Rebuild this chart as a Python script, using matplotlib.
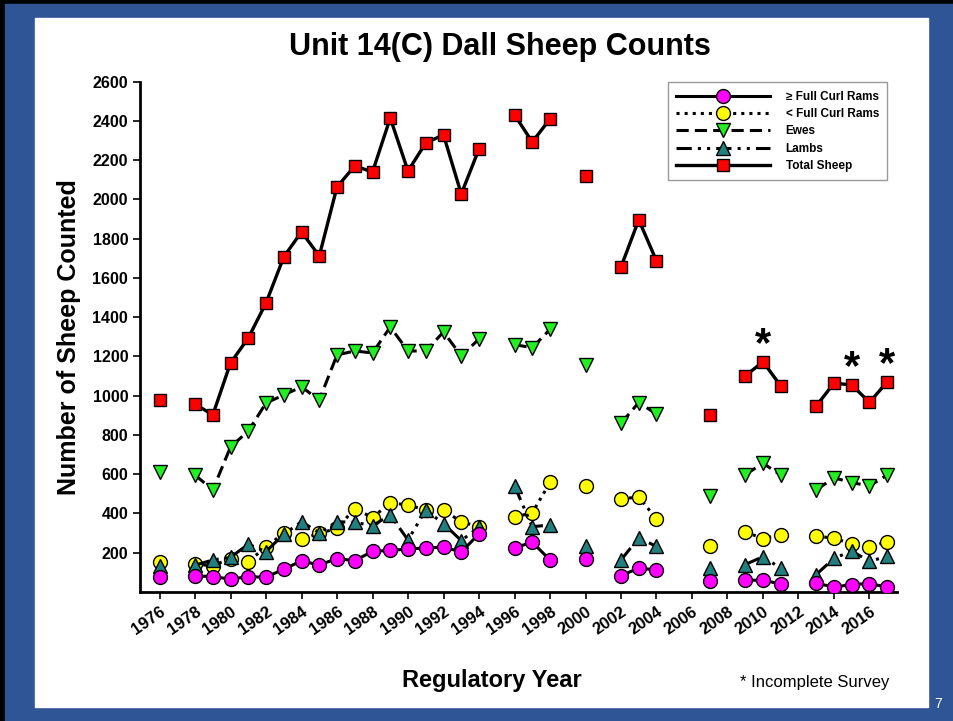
import numpy as np
import pandas as pd
import matplotlib
matplotlib.use("Agg")
import matplotlib.pyplot as plt
from matplotlib.patches import Rectangle

plt.rcParams['font.family'] = ['Liberation Sans', 'DejaVu Sans']

# survey years (gaps = no survey)
years = [1976] + list(range(1978, 1995)) + [1996, 1997, 1998, 2000, 2002, 2003, 2004,
                                           2007, 2009, 2010, 2011, 2013, 2014, 2015, 2016, 2017]

full_curl = [78, 83, 78, 66, 78, 75, 117, 158, 138, 170, 160, 207, 212, 219, 224, 229, 204, 296,
             225, 254, 163, 170, 83, 122, 112, 58, 60, 60, 41, 45, 25, 38, 43, 25]
sub_curl = [154, 141, 135, 170, 154, 231, 299, 268, 299, 324, 425, 379, 455, 443, 418, 418, 357, 333,
            381, 404, 558, 541, 473, 485, 371, 234, 306, 272, 292, 285, 274, 245, 230, 256]
ewes = [611, 596, 520, 739, 820, 963, 1004, 1045, 978, 1208, 1228, 1218, 1350, 1228, 1228, 1325, 1203, 1289,
        1260, 1245, 1338, 1155, 860, 965, 907, 488, 598, 656, 596, 520, 582, 557, 541, 596]
lambs = [132, 137, 163, 177, 243, 206, 294, 358, 302, 358, 355, 338, 392, 265, 418, 348, 262, 331,
         540, 333, 341, 234, 163, 276, 232, 123, 140, 180, 121, 89, 172, 208, 157, 181]
total = [978, 958, 902, 1167, 1294, 1473, 1707, 1835, 1712, 2064, 2171, 2140, 2415, 2145, 2288, 2329, 2028, 2257,
         2431, 2293, 2410, 2120, 1656, 1896, 1687, 902, 1101, 1173, 1050, 948, 1064, 1055, 966, 1071]

incomplete_years = [2010, 2015, 2017]

xticks = list(range(1976, 2017, 2))
yticks = list(range(200, 2601, 200))

# put on a full year index so missing years break the lines
df = pd.DataFrame({'full': full_curl, 'sub': sub_curl, 'ewes': ewes,
                   'lambs': lambs, 'total': total}, index=years)
df = df.reindex(range(1976, 2018))

fig = plt.figure(figsize=(9.54, 7.21), dpi=100)
W, H = 954.0, 721.0
# slide frame
fig.add_artist(Rectangle((0, 0), 1, 1, transform=fig.transFigure, color='black', zorder=-3))
fig.add_artist(Rectangle((5 / W, 0), 1, 1 - 4 / H, transform=fig.transFigure, color='#2F5597', zorder=-2))
fig.add_artist(Rectangle((35 / W, 14 / H), (928 - 35) / W, (707 - 18) / H,
                         transform=fig.transFigure, color='white', zorder=-1))

ax = fig.add_axes([140 / W, 1 - 592 / H, (897 - 140) / W, (592 - 81.7) / H])
ax.patch.set_alpha(0)

ax.plot(df.index, df['full'], '-', color='black', lw=2.2, marker='o', ms=10,
        mfc='#FF00FF', mec='black', mew=1, label=u'\u2265 Full Curl Rams', zorder=5)
ax.plot(df.index, df['sub'], ':', color='black', lw=2.2, marker='o', ms=10,
        mfc='#FFFF00', mec='black', mew=1, label='< Full Curl Rams', zorder=3)
ax.plot(df.index, df['ewes'], color='black', lw=2.2, ls=(0, (4, 2)), marker='v', ms=10,
        mfc='#22EE22', mec='black', mew=1, label='Ewes', zorder=3)
ax.plot(df.index, df['lambs'], color='black', lw=2.2, ls=(0, (5, 2, 1, 2, 1, 2)), marker='^', ms=10,
        mfc='#217F7F', mec='black', mew=1, label='Lambs', zorder=4)
ax.plot(df.index, df['total'], '-', color='black', lw=2.4, marker='s', ms=9,
        mfc='#FF0000', mec='black', mew=1, label='Total Sheep', zorder=3)

for yr in incomplete_years:
    ax.text(yr, df.loc[yr, 'total'] - 15, '*', ha='center', va='bottom',
            fontsize=30, fontweight='bold')

ax.set_xlim(1974.9, 2017.55)
ax.set_ylim(0, 2600)
ax.set_xticks(xticks)
ax.set_yticks(yticks)
ax.set_xticklabels([str(t) for t in xticks], rotation=35, ha='right', rotation_mode='anchor',
                   fontsize=12, fontweight='bold')
ax.set_yticklabels([str(t) for t in yticks], fontsize=11.5, fontweight='bold')
ax.tick_params(direction='out', length=5, width=1.2)
for s in ['top', 'right']:
    ax.spines[s].set_visible(False)
for s in ['left', 'bottom']:
    ax.spines[s].set_linewidth(2)

ax.set_ylabel('Number of Sheep Counted', fontsize=18, fontweight='bold', labelpad=8)
ax.set_xlabel('Regulatory Year', fontsize=17, fontweight='bold', labelpad=23)
ax.xaxis.label.set_x((492 - 140) / 757.0)

leg = ax.legend(loc='upper right', bbox_to_anchor=(0.995, 1.01), numpoints=1, handlelength=8,
                prop={'weight': 'bold', 'size': 8.5}, fancybox=False,
                edgecolor='#999999', framealpha=1, borderpad=0.7, labelspacing=0.45,
                handletextpad=1.3)
leg.get_frame().set_linewidth(1)

fig.text(500 / W, 1 - 47 / H, 'Unit 14(C) Dall Sheep Counts', ha='center', va='center',
         fontsize=22, fontweight='bold')
fig.text(815 / W, 1 - 683 / H, '* Incomplete Survey', ha='center', va='center', fontsize=12)
fig.text(938 / W, 1 - 704 / H, '7', ha='center', va='center', fontsize=10, color='white')

fig.savefig('out.png', dpi=100)
